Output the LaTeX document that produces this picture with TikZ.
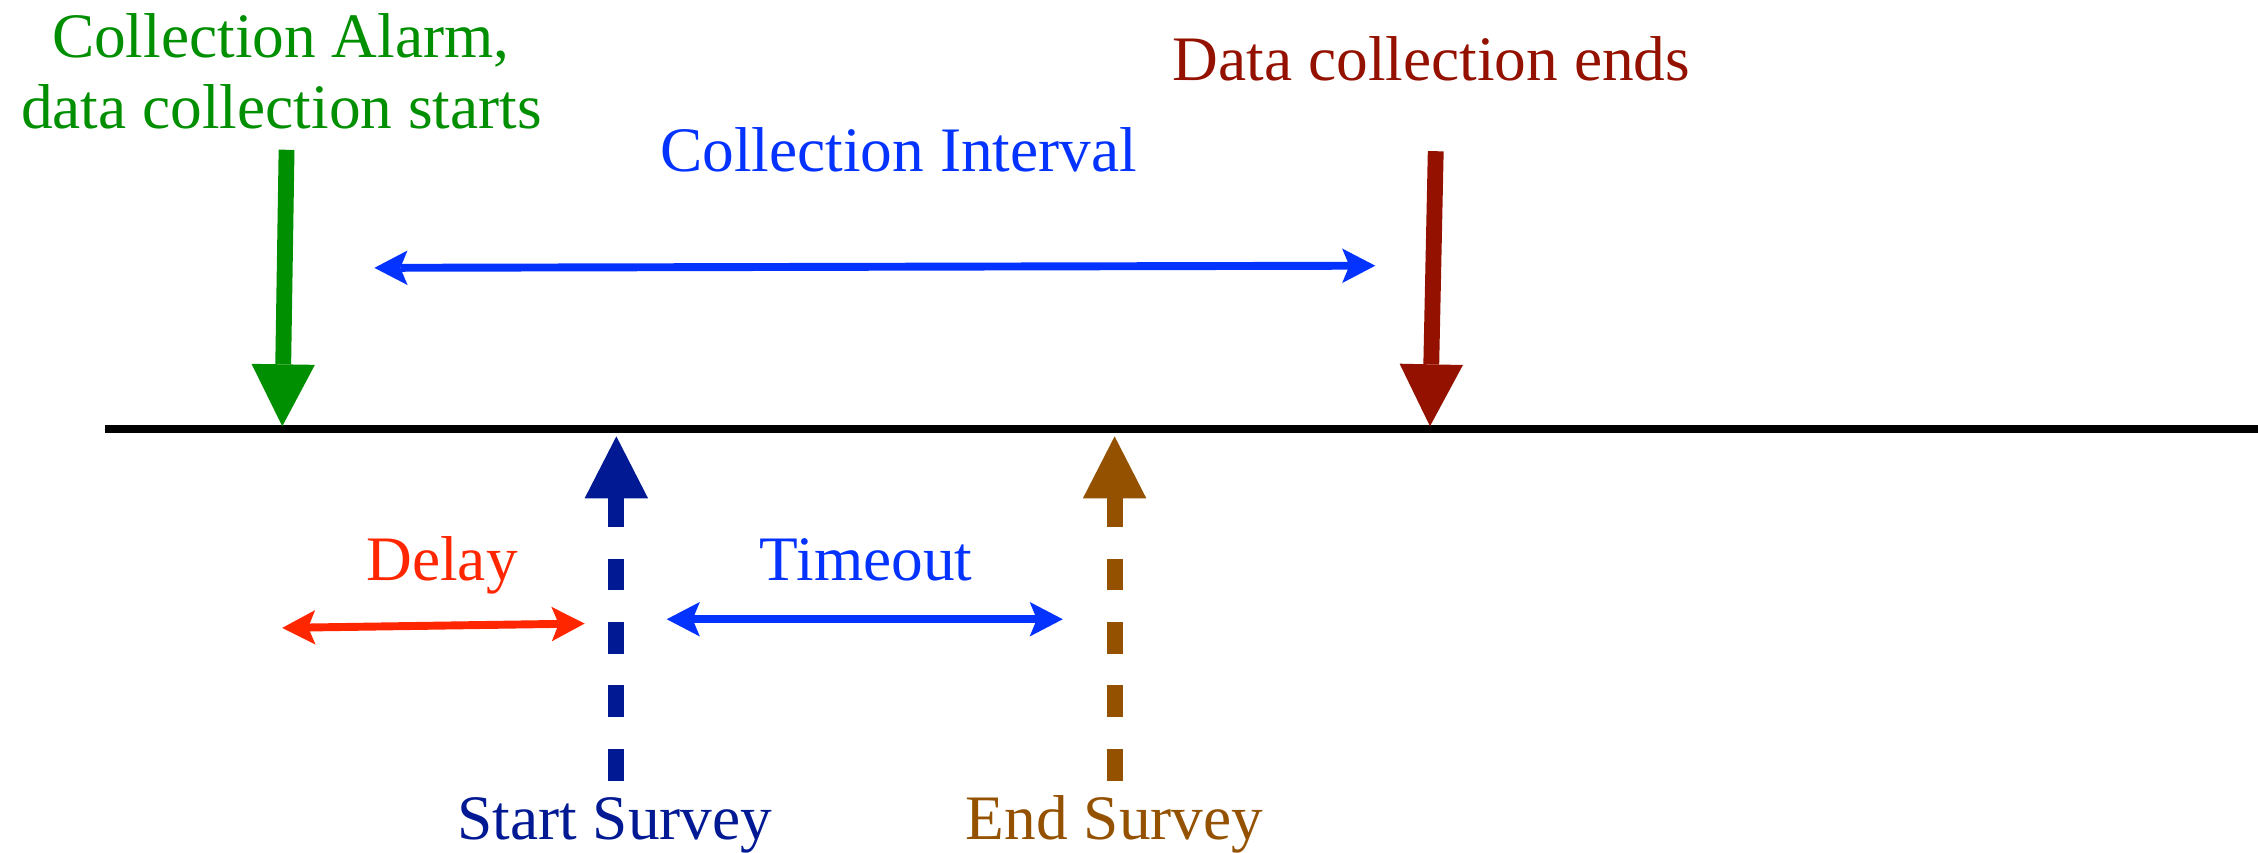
\documentclass[tikz,border=0pt]{standalone}
\usepackage{fontspec}
\setmainfont{Liberation Serif}
\usetikzlibrary{arrows.meta}
\definecolor{clover}{HTML}{008F00}
\definecolor{cayenne}{HTML}{941100}
\definecolor{blueberry}{HTML}{0433FF}
\definecolor{midnight}{HTML}{011993}
\definecolor{mocha}{HTML}{945200}
\definecolor{redorange}{HTML}{FF2600}
\begin{document}
\begin{tikzpicture}[x=1pt,y=-1pt,
  lbl/.style={font=\fontsize{44}{50}\selectfont, inner sep=0pt, anchor=base},
  bigarrow/.style={line width=11pt, -{Triangle[length=43pt,width=44pt,line width=0pt]}},
  dasharrow/.style={bigarrow, dash pattern=on 22pt off 22pt},
  spanarrow/.style={line width=5.5pt, {Stealth[length=23pt,width=24pt,inset=5pt,line width=0pt]}-{Stealth[length=23pt,width=24pt,inset=5pt,line width=0pt]}}]
\useasboundingbox (0,0) rectangle (1568,592);
% labels
\node[lbl, text=clover] (alarm1) at (195,40) {Collection Alarm,};
\node[lbl, text=clover] (alarm2) at (195.5,89) {data collection starts};
\node[lbl, text=cayenne] (ends) at (994,56) {Data collection ends};
\node[lbl, text=blueberry] (interval) at (624,119) {Collection Interval};
\node[lbl, text=redorange] (delay) at (307,403) {Delay};
\node[lbl, text=blueberry] (timeout) at (601.5,403) {Timeout};
\node[lbl, text=midnight] (start) at (427,583) {Start Survey};
\node[lbl, text=mocha] (endsv) at (774,583) {End Survey};
% coordinates
\coordinate (axL) at (73,298);
\coordinate (axR) at (1568,298);
\coordinate (gTop) at (199,104);
\coordinate (gTip) at (196,296);
\coordinate (rTop) at (997,105);
\coordinate (rTip) at (993,296);
\coordinate (sBot) at (428,542);
\coordinate (sTip) at (428,303);
\coordinate (eBot) at (774,542);
\coordinate (eTip) at (774,303);
\coordinate (iL) at (260,186);
\coordinate (iR) at (955,184.5);
\coordinate (dL) at (196,436);
\coordinate (dR) at (406,433);
\coordinate (tL) at (463,430);
\coordinate (tR) at (738,430);
% axis
\draw[line width=5.5pt] (axL) -- (axR);
% arrows
\draw[bigarrow, color=clover] (gTop) -- (gTip);
\draw[bigarrow, color=cayenne] (rTop) -- (rTip);
\draw[dasharrow, color=midnight] (sBot) -- (sTip);
\draw[dasharrow, color=mocha] (eBot) -- (eTip);
\draw[spanarrow, color=blueberry] (iL) -- (iR);
\draw[spanarrow, color=redorange] (dL) -- (dR);
\draw[spanarrow, color=blueberry] (tL) -- (tR);
\end{tikzpicture}
\end{document}
